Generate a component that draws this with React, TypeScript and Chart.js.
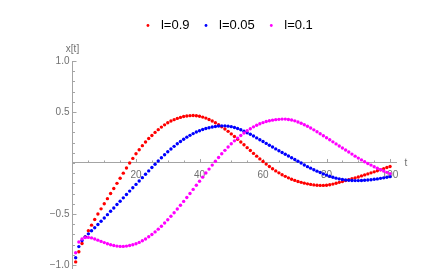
import React, { useEffect, useRef } from "react";
import { Chart, registerables } from "chart.js";

Chart.register(...registerables);

const SERIES_LABELS = ["l=0.9", "l=0.05", "l=0.1"];
const SERIES_COLORS = ["rgb(255,0,0)", "rgb(0,0,255)", "rgb(255,0,255)"];

const T = Array.from({ length: 100 }, (_, i) => i + 1);

const RED = [
  -0.97, -0.87, -0.79, -0.725, -0.665, -0.61, -0.555, -0.5, -0.45, -0.4,
  -0.35, -0.3, -0.25, -0.2, -0.15, -0.1, -0.05, 0.0, 0.045, 0.09,
  0.13, 0.17, 0.205, 0.24, 0.27, 0.3, 0.327, 0.352, 0.374, 0.394,
  0.411, 0.425, 0.437, 0.447, 0.455, 0.461, 0.464, 0.465, 0.463, 0.458,
  0.45, 0.44, 0.427, 0.412, 0.395, 0.376, 0.355, 0.333, 0.31, 0.285,
  0.26, 0.233, 0.206, 0.178, 0.15, 0.122, 0.094, 0.067, 0.04, 0.014,
  -0.011, -0.035, -0.057, -0.078, -0.097, -0.115, -0.131, -0.146, -0.159, -0.171,
  -0.181, -0.19, -0.198, -0.205, -0.21, -0.215, -0.218, -0.22, -0.22, -0.218,
  -0.213, -0.207, -0.199, -0.19, -0.182, -0.173, -0.164, -0.155, -0.146, -0.137,
  -0.127, -0.117, -0.107, -0.097, -0.087, -0.077, -0.066, -0.056, -0.045, -0.035,
];

const BLUE = [
  -0.93, -0.82, -0.76, -0.725, -0.695, -0.665, -0.635, -0.604, -0.572, -0.54,
  -0.507, -0.474, -0.441, -0.408, -0.375, -0.342, -0.309, -0.276, -0.243, -0.21,
  -0.177, -0.144, -0.111, -0.078, -0.045, -0.012, 0.02, 0.051, 0.081, 0.11,
  0.137, 0.163, 0.188, 0.211, 0.233, 0.253, 0.271, 0.288, 0.303, 0.316,
  0.328, 0.338, 0.346, 0.353, 0.358, 0.362, 0.364, 0.364, 0.361, 0.356,
  0.348, 0.338, 0.326, 0.312, 0.297, 0.281, 0.264, 0.246, 0.228, 0.21,
  0.192, 0.174, 0.156, 0.138, 0.12, 0.102, 0.085, 0.068, 0.051, 0.034,
  0.017, 0.0, -0.02, -0.036, -0.051, -0.066, -0.08, -0.094, -0.107, -0.119,
  -0.13, -0.14, -0.149, -0.156, -0.162, -0.167, -0.17, -0.172, -0.173, -0.173,
  -0.172, -0.17, -0.167, -0.164, -0.16, -0.156, -0.151, -0.146, -0.14, -0.134,
];

const MAGENTA = [
  -0.88, -0.775, -0.745, -0.732, -0.73, -0.735, -0.745, -0.757, -0.769, -0.781,
  -0.792, -0.802, -0.81, -0.815, -0.818, -0.818, -0.815, -0.81, -0.802, -0.792,
  -0.779, -0.763, -0.745, -0.724, -0.701, -0.676, -0.649, -0.62, -0.589, -0.557,
  -0.523, -0.488, -0.452, -0.415, -0.377, -0.338, -0.299, -0.259, -0.219, -0.179,
  -0.139, -0.099, -0.06, -0.021, 0.017, 0.054, 0.09, 0.124, 0.157, 0.188,
  0.217, 0.244, 0.27, 0.294, 0.316, 0.336, 0.354, 0.37, 0.384, 0.396,
  0.406, 0.414, 0.42, 0.425, 0.428, 0.43, 0.43, 0.427, 0.421, 0.413,
  0.402, 0.389, 0.375, 0.36, 0.343, 0.325, 0.306, 0.287, 0.267, 0.247,
  0.227, 0.207, 0.187, 0.167, 0.147, 0.127, 0.107, 0.087, 0.067, 0.048,
  0.03, 0.012, -0.005, -0.021, -0.037, -0.052, -0.066, -0.079, -0.092, -0.104,
];

const X_TICKS = [5, 10, 15, 20, 25, 30, 35, 40, 45, 50, 55, 60, 65, 70, 75, 80, 85, 90, 95, 100];
const X_MAJOR = [20, 40, 60, 80, 100];
const X_LABELS = ["20", "40", "60", "80", "100"];
const Y_TICKS = [
  -1, -0.9, -0.8, -0.7, -0.6, -0.5, -0.4, -0.3, -0.2, -0.1, 0,
  0.1, 0.2, 0.3, 0.4, 0.5, 0.6, 0.7, 0.8, 0.9, 1,
];
const Y_MAJOR = [-1, -0.5, 0.5, 1];
const Y_LABELS = ["\u22121.0", "\u22120.5", "0.5", "1.0"];

const AXIS_COLOR = "#a4a4a4";
const LABEL_COLOR = "#707070";
const FONT = "'Liberation Sans', Arial, Helvetica, sans-serif";

const axisDecor = {
  id: "axisDecor",
  beforeDatasetsDraw(chart: any) {
    const { ctx, scales } = chart;
    const x = scales.x;
    const y = scales.y;
    const y0 = y.getPixelForValue(0);
    const x0 = x.getPixelForValue(0);
    ctx.save();
    ctx.strokeStyle = AXIS_COLOR;
    ctx.lineWidth = 1;
    ctx.beginPath();
    for (const v of X_TICKS) {
      const px = Math.round(x.getPixelForValue(v)) + 0.5;
      const len = X_MAJOR.includes(v) ? 4 : 2.5;
      ctx.moveTo(px, y0);
      ctx.lineTo(px, y0 - len);
    }
    for (const v of Y_TICKS) {
      const py = Math.round(y.getPixelForValue(v)) + 0.5;
      const len = Y_MAJOR.includes(v) ? 4 : 2.5;
      ctx.moveTo(x0, py);
      ctx.lineTo(x0 + len, py);
    }
    ctx.stroke();
    ctx.restore();
  },
  afterDraw(chart: any) {
    const { ctx, chartArea, scales } = chart;
    const y0 = scales.y.getPixelForValue(0);
    ctx.save();
    ctx.fillStyle = LABEL_COLOR;
    ctx.font = `10px ${FONT}`;
    ctx.textBaseline = "middle";
    ctx.textAlign = "center";
    ctx.fillText("x[t]", chartArea.left, chartArea.top - 12);
    ctx.textAlign = "left";
    ctx.fillText("t", chartArea.right + 8, y0);
    ctx.restore();
  },
};

export default function App() {
  const ref = useRef<HTMLCanvasElement>(null);
  useEffect(() => {
    if (!ref.current) return;
    Chart.defaults.font.family = FONT;
    const series = [RED, BLUE, MAGENTA];
    const chart = new Chart(ref.current, {
      type: "scatter",
      data: {
        datasets: series.map((vals, i) => ({
          label: SERIES_LABELS[i],
          data: T.map((t, j) => ({ x: t, y: vals[j] })),
          backgroundColor: SERIES_COLORS[i],
          borderColor: SERIES_COLORS[i],
          borderWidth: 0,
          pointRadius: 1.7,
          pointStyle: "circle",
          order: 3 - i,
        })),
      },
      options: {
        animation: false,
        responsive: true,
        maintainAspectRatio: false,
        layout: { padding: { top: 9, left: 27.3, right: 0, bottom: 0 } },
        plugins: {
          tooltip: { enabled: false },
          legend: {
            position: "top",
            align: "center",
            labels: {
              usePointStyle: true,
              boxWidth: 13,
              boxHeight: 2,
              padding: 10,
              color: "#000",
              font: { size: 13, family: FONT },
              sort: (a: any, b: any) => a.datasetIndex - b.datasetIndex,
            },
          },
        },
        scales: {
          x: {
            type: "linear",
            min: 0,
            max: 102,
            position: { y: 0 } as any,
            grid: { display: false, drawTicks: false },
            border: { display: true, color: AXIS_COLOR, width: 1 },
            afterBuildTicks: (s: any) => {
              s.ticks = X_TICKS.map((v) => ({ value: v }));
            },
            afterFit: (s: any) => {
              s.paddingLeft = 0;
              s.paddingRight = 30.6;
            },
            ticks: {
              autoSkip: false,
              maxRotation: 0,
              padding: 6,
              color: LABEL_COLOR,
              font: { size: 10, family: FONT },
              callback: (v: any) => {
                const k = X_MAJOR.indexOf(Number(v));
                return k >= 0 ? X_LABELS[k] : "";
              },
            },
          },
          gap: {
            type: "linear",
            position: "top",
            display: true,
            grid: { display: false, drawTicks: false },
            border: { display: false },
            ticks: { display: false },
            afterFit: (s: any) => {
              s.height = 19;
              s.paddingLeft = 0;
              s.paddingRight = 0;
            },
          },
          y: {
            type: "linear",
            min: -1.03,
            max: 1.0,
            position: "left",
            grid: { display: false, drawTicks: false },
            border: { display: true, color: AXIS_COLOR, width: 1 },
            afterBuildTicks: (s: any) => {
              s.ticks = Y_TICKS.map((v) => ({ value: v }));
            },
            afterFit: (s: any) => {
              s.width = 45.2;
              s.paddingTop = 0;
              s.paddingBottom = 5;
            },
            ticks: {
              autoSkip: false,
              padding: 3,
              color: LABEL_COLOR,
              font: { size: 10, family: FONT },
              callback: (v: any) => {
                const k = Y_MAJOR.indexOf(Number(v));
                return k >= 0 ? Y_LABELS[k] : "";
              },
            },
          },
        },
      },
      plugins: [axisDecor],
    });
    return () => chart.destroy();
  }, []);
  return (
    <div style={{ position: "fixed", left: 0, top: 0, width: 427, height: 273, background: "#fff" }}>
      <canvas ref={ref} />
    </div>
  );
}
